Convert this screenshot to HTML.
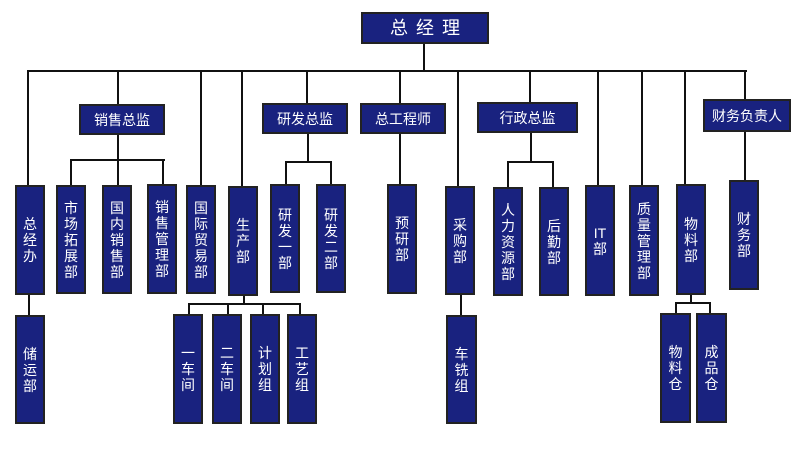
<!DOCTYPE html>
<html><head><meta charset="utf-8"><style>
body{margin:0;width:800px;height:452px;background:#fff;position:relative;overflow:hidden;font-family:"Liberation Sans","Noto Sans CJK SC",sans-serif}
.b{position:absolute;background:#19227f;border:2px solid #222;box-sizing:border-box;color:#fff;display:flex;align-items:center;justify-content:center;text-align:center;font-size:14px;line-height:16px}
.v{padding:0 2px}
.l{position:absolute;background:#111}
.h{height:2px}.vv{width:2px}
</style></head><body>
<!-- lines -->
<div class="l vv" style="left:423px;top:43px;height:29px"></div>
<div class="l h" style="left:27px;top:70px;width:720px"></div>
<div class="l vv" style="left:27px;top:71px;height:114px"></div>
<div class="l vv" style="left:117px;top:71px;height:34px"></div>
<div class="l vv" style="left:200px;top:71px;height:114px"></div>
<div class="l vv" style="left:241px;top:71px;height:115px"></div>
<div class="l vv" style="left:306px;top:71px;height:32px"></div>
<div class="l vv" style="left:399px;top:71px;height:32px"></div>
<div class="l vv" style="left:457px;top:71px;height:115px"></div>
<div class="l vv" style="left:529px;top:71px;height:31px"></div>
<div class="l vv" style="left:597px;top:71px;height:114px"></div>
<div class="l vv" style="left:641px;top:71px;height:114px"></div>
<div class="l vv" style="left:684px;top:71px;height:113px"></div>
<div class="l vv" style="left:744px;top:71px;height:28px"></div>
<!-- sales -->
<div class="l vv" style="left:117px;top:134px;height:51px"></div>
<div class="l h" style="left:70px;top:159px;width:95px"></div>
<div class="l vv" style="left:70px;top:159px;height:26px"></div>
<div class="l vv" style="left:162px;top:159px;height:25px"></div>
<!-- rd -->
<div class="l vv" style="left:307px;top:133px;height:29px"></div>
<div class="l h" style="left:285px;top:161px;width:47px"></div>
<div class="l vv" style="left:285px;top:161px;height:23px"></div>
<div class="l vv" style="left:330px;top:161px;height:23px"></div>
<div class="l vv" style="left:399px;top:133px;height:51px"></div>
<!-- admin -->
<div class="l vv" style="left:530px;top:132px;height:30px"></div>
<div class="l h" style="left:507px;top:161px;width:47px"></div>
<div class="l vv" style="left:507px;top:161px;height:26px"></div>
<div class="l vv" style="left:552px;top:161px;height:26px"></div>
<div class="l vv" style="left:744px;top:131px;height:49px"></div>
<!-- bottom -->
<div class="l vv" style="left:28px;top:294px;height:21px"></div>
<div class="l vv" style="left:243px;top:295px;height:9px"></div>
<div class="l h" style="left:188px;top:303px;width:113px"></div>
<div class="l vv" style="left:188px;top:303px;height:11px"></div>
<div class="l vv" style="left:227px;top:303px;height:11px"></div>
<div class="l vv" style="left:262px;top:303px;height:11px"></div>
<div class="l vv" style="left:299px;top:303px;height:11px"></div>
<div class="l vv" style="left:460px;top:294px;height:21px"></div>
<div class="l vv" style="left:690px;top:294px;height:9px"></div>
<div class="l h" style="left:675px;top:302px;width:36px"></div>
<div class="l vv" style="left:675px;top:302px;height:11px"></div>
<div class="l vv" style="left:709px;top:302px;height:11px"></div>
<!-- boxes -->
<div class="b" style="left:361px;top:12px;width:128px;height:32px;font-size:18px;letter-spacing:8px;padding-left:8px">总经理</div>
<div class="b" style="left:79px;top:104px;width:86px;height:31px">销售总监</div>
<div class="b" style="left:262px;top:103px;width:86px;height:31px">研发总监</div>
<div class="b" style="left:360px;top:103px;width:86px;height:31px">总工程师</div>
<div class="b" style="left:477px;top:102px;width:101px;height:31px">行政总监</div>
<div class="b" style="left:703px;top:99px;width:88px;height:33px">财务负责人</div>

<div class="b v" style="left:15px;top:185px;width:30px;height:110px">总<br>经<br>办</div>
<div class="b v" style="left:56px;top:185px;width:30px;height:109px">市<br>场<br>拓<br>展<br>部</div>
<div class="b v" style="left:102px;top:185px;width:30px;height:109px">国<br>内<br>销<br>售<br>部</div>
<div class="b v" style="left:147px;top:184px;width:30px;height:110px">销<br>售<br>管<br>理<br>部</div>
<div class="b v" style="left:186px;top:185px;width:30px;height:109px">国<br>际<br>贸<br>易<br>部</div>
<div class="b v" style="left:228px;top:186px;width:30px;height:110px">生<br>产<br>部</div>
<div class="b v" style="left:270px;top:184px;width:30px;height:109px">研<br>发<br>一<br>部</div>
<div class="b v" style="left:316px;top:184px;width:30px;height:109px">研<br>发<br>二<br>部</div>
<div class="b v" style="left:387px;top:184px;width:30px;height:110px">预<br>研<br>部</div>
<div class="b v" style="left:445px;top:186px;width:30px;height:109px">采<br>购<br>部</div>
<div class="b v" style="left:493px;top:187px;width:30px;height:109px">人<br>力<br>资<br>源<br>部</div>
<div class="b v" style="left:539px;top:187px;width:30px;height:109px">后<br>勤<br>部</div>
<div class="b v" style="left:585px;top:185px;width:30px;height:111px">IT<br>部</div>
<div class="b v" style="left:629px;top:185px;width:30px;height:111px">质<br>量<br>管<br>理<br>部</div>
<div class="b v" style="left:676px;top:184px;width:30px;height:111px">物<br>料<br>部</div>
<div class="b v" style="left:729px;top:180px;width:30px;height:110px">财<br>务<br>部</div>

<div class="b v" style="left:15px;top:315px;width:30px;height:109px">储<br>运<br>部</div>
<div class="b v" style="left:173px;top:314px;width:30px;height:110px">一<br>车<br>间</div>
<div class="b v" style="left:212px;top:314px;width:30px;height:110px">二<br>车<br>间</div>
<div class="b v" style="left:250px;top:314px;width:30px;height:110px">计<br>划<br>组</div>
<div class="b v" style="left:287px;top:314px;width:30px;height:110px">工<br>艺<br>组</div>
<div class="b v" style="left:446px;top:315px;width:31px;height:109px">车<br>铣<br>组</div>
<div class="b v" style="left:660px;top:313px;width:31px;height:110px">物<br>料<br>仓</div>
<div class="b v" style="left:696px;top:313px;width:31px;height:110px">成<br>品<br>仓</div>
</body></html>
